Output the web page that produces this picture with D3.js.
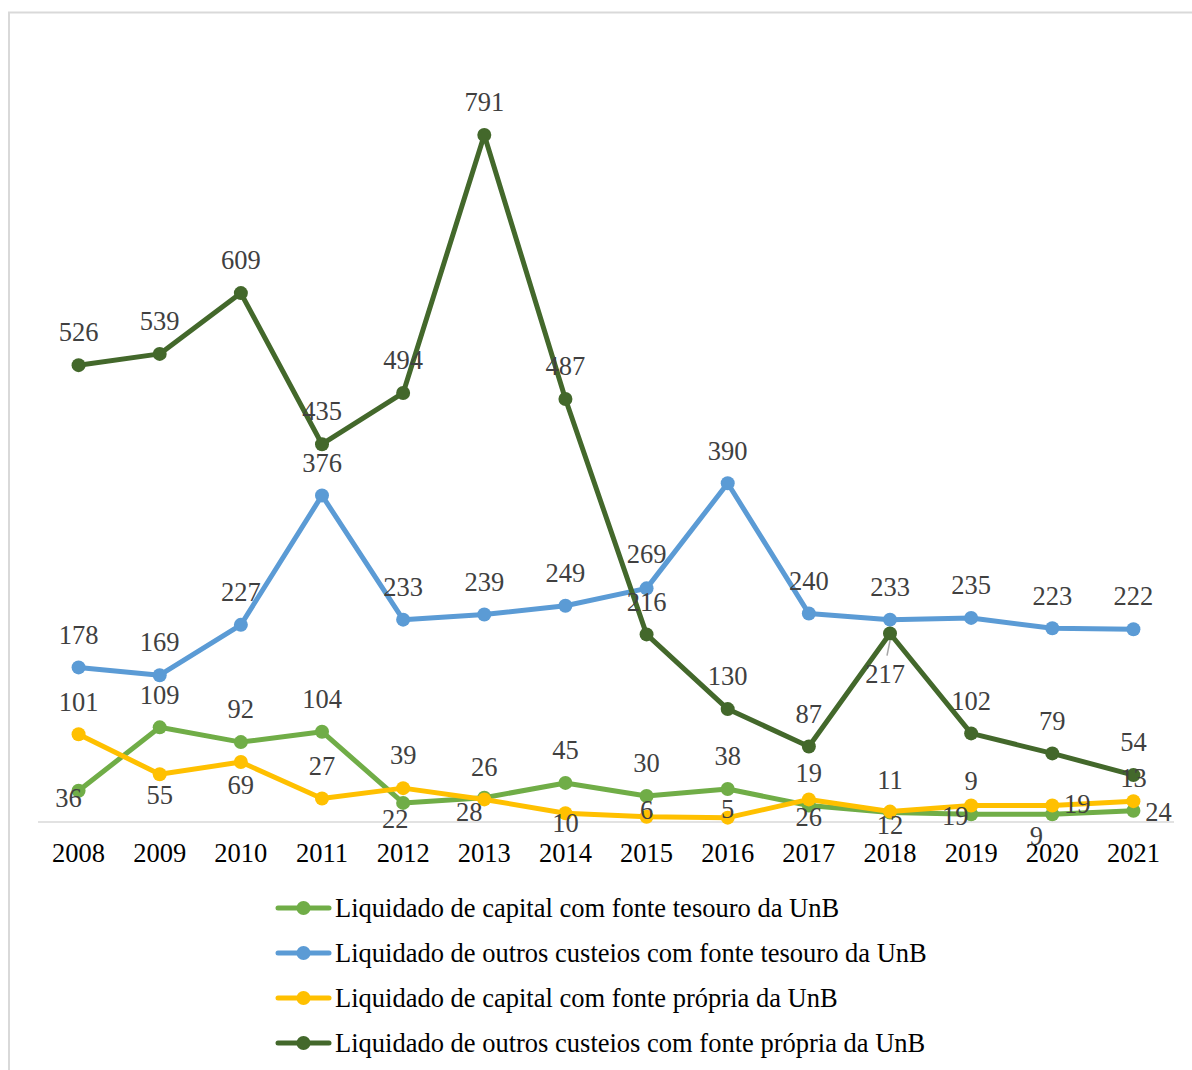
<!DOCTYPE html>
<html lang="pt">
<head>
<meta charset="utf-8">
<script src="https://cdn.jsdelivr.net/npm/d3@7"></script>
<style>
  html, body { margin: 0; padding: 0; background: #fff; }
  svg { display: block; }
  svg text { font-family: "Liberation Serif", "Times New Roman", "DejaVu Serif", serif; }
</style>
</head>
<body>
<div id="chart"></div>
<script>
// Anos da série
const years = ["2008","2009","2010","2011","2012","2013","2014","2015","2016","2017","2018","2019","2020","2021"];

// Valores liquidados por ano
const capitalTesouro  = [36, 109, 92, 104, 22, 28, 45, 30, 38, 19, 11, 9, 9, 13];
const custeioTesouro  = [178, 169, 227, 376, 233, 239, 249, 269, 390, 240, 233, 235, 223, 222];
const capitalPropria  = [101, 55, 69, 27, 39, 26, 10, 6, 5, 26, 12, 19, 19, 24];
const custeioPropria  = [526, 539, 609, 435, 494, 791, 487, 216, 130, 87, 217, 102, 79, 54];

const seriesNames = [
  "Liquidado de capital com fonte tesouro da UnB",
  "Liquidado de outros custeios com fonte tesouro da UnB",
  "Liquidado de capital com fonte própria da UnB",
  "Liquidado de outros custeios com fonte própria da UnB"
];

// Deslocamento de cada rótulo de dado em relação ao seu ponto [dx, dy]
const A = [0, -33];
const offCapitalTesouro = [[-10, 7], A, A, A, [-8, 16], [-15, 14], A, A, A, A, A, A, [-16, 22], A];
const offCusteioTesouro = [A, A, A, A, A, A, A, [0, -35], A, A, A, A, A, A];
const offCapitalPropria = [A, [0, 20], [0, 23], A, A, A, [0, 9], [0, -7], [0, -9], [0, 17], [0, 13], [-16, 10], [25, -2], [25, 11]];
const offCusteioPropria = [A, A, A, A, A, A, A, A, A, A, [-5, 40], A, A, A];

const W = 1192, H = 1070;
const FONT = "'Liberation Serif', 'Times New Roman', 'DejaVu Serif', serif";
const FS = 26.5;

const svg = d3.select("#chart").append("svg").attr("width", W).attr("height", H);

// moldura do gráfico
svg.append("rect")
  .attr("x", 9).attr("y", 12.5)
  .attr("width", W + 20).attr("height", H + 20)
  .attr("fill", "none").attr("stroke", "#d9d9d9").attr("stroke-width", 2);

const plot = { left: 38, right: 1174, top: 40.35, bottom: 822 };

const x = d3.scaleBand().domain(years).range([plot.left, plot.right]).padding(0);
const y = d3.scaleLinear().domain([0, 900]).range([plot.bottom, plot.top]);
const cx = d => x(d) + x.bandwidth() / 2;

// eixo horizontal
const xAxis = d3.axisBottom(x).tickSize(0).tickPadding(0);
const gx = svg.append("g").attr("transform", `translate(0,${plot.bottom})`).call(xAxis)
  .attr("font-family", FONT).attr("font-size", FS);
gx.select(".domain").attr("stroke", "#d9d9d9").attr("stroke-width", 1.5)
  .attr("d", `M${plot.left},0H${plot.right}`);
gx.selectAll(".tick text")
  .attr("y", 31).attr("dy", "0.35em")
  .attr("fill", "#000");

const series = [
  { name: seriesNames[0], values: capitalTesouro, offsets: offCapitalTesouro, color: "#70ad47" },
  { name: seriesNames[1], values: custeioTesouro, offsets: offCusteioTesouro, color: "#5b9bd5" },
  { name: seriesNames[2], values: capitalPropria, offsets: offCapitalPropria, color: "#ffc000" },
  { name: seriesNames[3], values: custeioPropria, offsets: offCusteioPropria, color: "#43682b" }
];

const line = d3.line().x((d, i) => cx(years[i])).y(d => y(d));

const gLines = svg.append("g");
series.forEach(s => {
  const g = gLines.append("g");
  g.append("path").datum(s.values)
    .attr("d", line)
    .attr("fill", "none").attr("stroke", s.color)
    .attr("stroke-width", 5).attr("stroke-linejoin", "round").attr("stroke-linecap", "round");
  g.selectAll("circle").data(s.values).join("circle")
    .attr("cx", (d, i) => cx(years[i]))
    .attr("cy", d => y(d))
    .attr("r", 7)
    .attr("fill", s.color);
});

// linha de chamada do rótulo 217 (2018)
const iLeader = years.indexOf("2018");
svg.append("line")
  .attr("x1", cx(years[iLeader])).attr("y1", y(custeioPropria[iLeader]) + 7)
  .attr("x2", cx(years[iLeader]) - 3).attr("y2", y(custeioPropria[iLeader]) + 22)
  .attr("stroke", "#a6a6a6").attr("stroke-width", 1.5);

// rótulos de dados
const gLabels = svg.append("g").attr("font-family", FONT).attr("font-size", FS);
series.forEach(s => {
  gLabels.append("g").selectAll("text").data(s.values).join("text")
    .attr("x", (d, i) => cx(years[i]) + s.offsets[i][0])
    .attr("y", (d, i) => y(d) + s.offsets[i][1])
    .attr("dy", "0.35em")
    .attr("text-anchor", "middle")
    .attr("fill", "#404040")
    .text(d => d);
});

// legenda
const legend = svg.append("g").attr("font-family", FONT).attr("font-size", FS);
series.forEach((s, i) => {
  const ly = 908 + i * 45;
  const g = legend.append("g").attr("transform", `translate(0,${ly})`);
  g.append("line").attr("x1", 278).attr("x2", 329).attr("y1", 0).attr("y2", 0)
    .attr("stroke", s.color).attr("stroke-width", 5).attr("stroke-linecap", "round");
  g.append("circle").attr("cx", 303.5).attr("cy", 0).attr("r", 7).attr("fill", s.color);
  g.append("text").attr("x", 335).attr("y", 0).attr("dy", "0.35em")
    .attr("fill", "#000").text(s.name);
});
</script>
</body>
</html>
